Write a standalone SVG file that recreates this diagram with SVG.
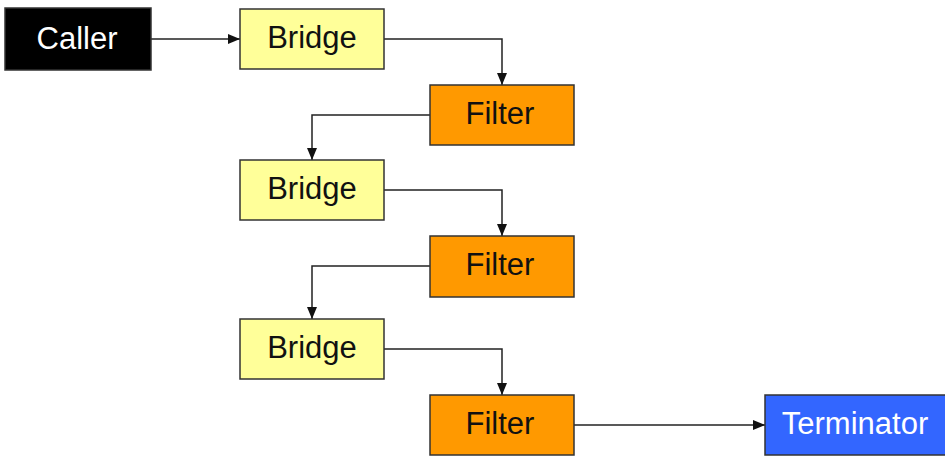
<svg xmlns="http://www.w3.org/2000/svg" width="945" height="456" viewBox="0 0 945 456">
<style>
.box{stroke:#333;stroke-width:1.5}
.t{font-family:"Liberation Sans",Arial,sans-serif;font-size:31px;text-anchor:middle}
.dark{fill:#111}
.light{fill:#fff}
.c{fill:none;stroke:#222;stroke-width:1.5;marker-end:url(#ah)}
</style>
<defs>
<marker id="ah" viewBox="0 0 12 10" refX="12" refY="5" markerWidth="12" markerHeight="10" markerUnits="userSpaceOnUse" orient="auto">
<path d="M0,0 L12,5 L0,10 z" fill="#111"/>
</marker>
</defs>
<rect width="945" height="456" fill="#fff"/>
<g id="connectors">
<path class="c" d="M151,39 H240"/>
<path class="c" d="M384,39 H502 V85"/>
<path class="c" d="M430,115 H312 V160"/>
<path class="c" d="M384,190 H502 V236"/>
<path class="c" d="M430,266 H312 V319"/>
<path class="c" d="M384,349 H502 V395"/>
<path class="c" d="M574,425 H765"/>
</g>
<g id="caller"><rect class="box" x="5" y="8" width="146" height="62" fill="#000"/><text class="t light" x="77" y="49">Caller</text></g>
<g id="bridge1"><rect class="box" x="240" y="9" width="144" height="60" fill="#ffff99"/><text class="t dark" x="312" y="48">Bridge</text></g>
<g id="filter1"><rect class="box" x="430" y="85" width="144" height="60" fill="#ff9900"/><text class="t dark" x="500" y="124">Filter</text></g>
<g id="bridge2"><rect class="box" x="240" y="160" width="144" height="60" fill="#ffff99"/><text class="t dark" x="312" y="199">Bridge</text></g>
<g id="filter2"><rect class="box" x="430" y="236" width="144" height="61" fill="#ff9900"/><text class="t dark" x="500" y="275">Filter</text></g>
<g id="bridge3"><rect class="box" x="240" y="319" width="144" height="60" fill="#ffff99"/><text class="t dark" x="312" y="358">Bridge</text></g>
<g id="filter3"><rect class="box" x="430" y="395" width="144" height="60" fill="#ff9900"/><text class="t dark" x="500" y="434">Filter</text></g>
<g id="terminator"><rect class="box" x="765" y="395" width="184" height="60" fill="#3366ff"/><text class="t light" x="855" y="434">Terminator</text></g>
</svg>
